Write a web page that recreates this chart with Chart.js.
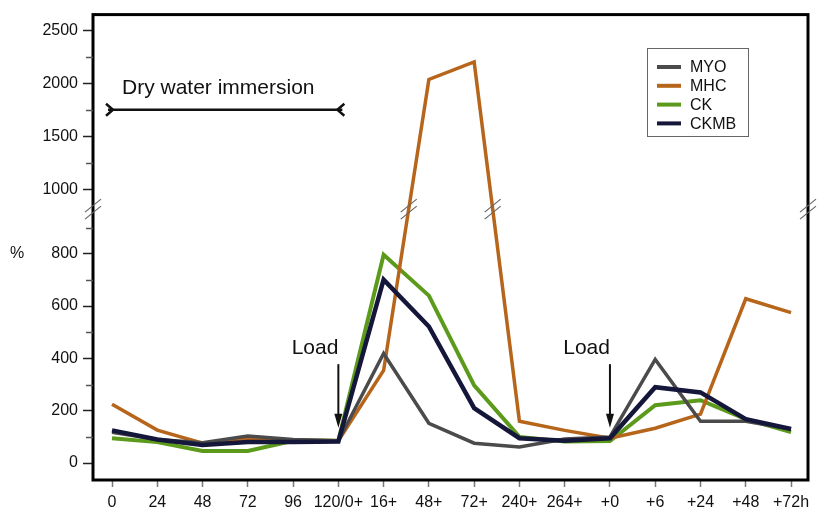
<!DOCTYPE html>
<html>
<head>
<meta charset="utf-8">
<script src="https://cdn.jsdelivr.net/npm/chart.js@4.4.1/dist/chart.umd.min.js"></script>
<style>
  html, body { margin: 0; padding: 0; background: #fff; }
  canvas { display: block; }
</style>
</head>
<body>
<canvas id="chart" width="820" height="511"></canvas>
<script>
/* ── Data ───────────────────────────────────── */
const timeLabels = ['0', '24', '48', '72', '96', '120/0+', '16+', '48+', '72+', '240+', '264+', '+0', '+6', '+24', '+48', '+72h'];
const myo  = [118, 90, 78, 103, 90, 85, 419, 152, 76, 61, 92, 100, 396, 160, 160, 130];
const mhc  = [225, 126, 76, 95, 88, 85, 354, 2040, 2205, 160, 125, 95, 133, 187, 628, 575];
const ck   = [95, 80, 46, 46, 85, 85, 796, 640, 297, 100, 82, 84, 221, 240, 168, 118];
const ckmb = [125, 90, 69, 80, 80, 82, 701, 522, 210, 95, 85, 95, 290, 270, 168, 130];
const yTicks = [0, 200, 400, 600, 800, 1000, 1500, 2000, 2500];
const yMinorTicks = [100, 300, 500, 700, 900, 1250, 1750, 2250];

const FONT = "'Liberation Sans', Arial, Helvetica, sans-serif";
Chart.defaults.font.family = FONT;
Chart.defaults.color = '#111';

/* ── Broken y axis: 0..~930 linear, then compressed upper part ── */
const LOW_MAX = 930, HIGH_MIN = 1000, HIGH_START = 1044, HIGH_RATIO = 0.406;
const DISPLAY_MIN = -64.8, DISPLAY_MAX = 1714.3;
const BREAK_VALUE = 955;

function toDisplay(v) {
  if (v <= LOW_MAX) return v;
  if (v >= HIGH_MIN) return HIGH_START + (v - HIGH_MIN) * HIGH_RATIO;
  return LOW_MAX + (v - LOW_MAX) / (HIGH_MIN - LOW_MAX) * (HIGH_START - LOW_MAX);
}
function fromDisplay(d) {
  if (d <= LOW_MAX) return d;
  if (d >= HIGH_START) return HIGH_MIN + (d - HIGH_START) / HIGH_RATIO;
  return LOW_MAX + (d - LOW_MAX) / (HIGH_START - LOW_MAX) * (HIGH_MIN - LOW_MAX);
}

class BrokenScale extends Chart.LinearScale {
  static id = 'broken';
  static defaults = Chart.LinearScale.defaults;
  buildTicks() {
    return [...yTicks, ...yMinorTicks].sort((a, b) => a - b).map(v => ({ value: v }));
  }
  getPixelForValue(v) {
    if (v === null || v === undefined) return NaN;
    return this.getPixelForDecimal((toDisplay(v) - DISPLAY_MIN) / (DISPLAY_MAX - DISPLAY_MIN));
  }
  getValueForPixel(p) {
    return fromDisplay(DISPLAY_MIN + this.getDecimalForPixel(p) * (DISPLAY_MAX - DISPLAY_MIN));
  }
}
Chart.register(BrokenScale);

const toPoints = arr => arr.map((v, i) => ({ x: i, y: v }));

/* ── Extra drawing: frame, minor ticks, breaks, notes, legend ── */
const decor = {
  id: 'decor',
  afterDraw(chart) {
    const { ctx, chartArea: a, scales: { x, y } } = chart;
    ctx.save();

    // frame
    ctx.strokeStyle = '#000';
    ctx.lineWidth = 3;
    ctx.strokeRect(a.left, a.top, a.right - a.left, a.bottom - a.top);

    // minor y ticks
    ctx.strokeStyle = '#555';
    ctx.lineWidth = 1.5;
    yMinorTicks.forEach(v => {
      const py = Math.round(y.getPixelForValue(v)) + 0.5;
      ctx.beginPath();
      ctx.moveTo(a.left - 7, py);
      ctx.lineTo(a.left, py);
      ctx.stroke();
    });

    // break marks
    const by = y.getPixelForValue(BREAK_VALUE);
    const marks = [a.left, a.right];
    const pts = chart.getDatasetMeta(1).data;
    for (let i = 1; i < pts.length; i++) {
      const p0 = pts[i - 1], p1 = pts[i];
      if ((p0.y - by) * (p1.y - by) < 0) {
        marks.push(p0.x + (by - p0.y) / (p1.y - p0.y) * (p1.x - p0.x));
      }
    }
    ctx.strokeStyle = '#666';
    ctx.lineWidth = 1.2;
    marks.forEach(mx => {
      [-3.5, 3.5].forEach(off => {
        ctx.beginPath();
        ctx.moveTo(mx - 8, by + off + 6.5);
        ctx.lineTo(mx + 8, by + off - 6.5);
        ctx.stroke();
      });
    });

    // "%" label
    ctx.fillStyle = '#111';
    ctx.font = '16px ' + FONT;
    ctx.textAlign = 'center';
    ctx.textBaseline = 'middle';
    ctx.fillText('%', 17, y.getPixelForValue(800));

    // dry water immersion bracket
    const x0 = x.getPixelForValue(0), x5 = x.getPixelForValue(5);
    const bry = y.getPixelForValue(1755);
    ctx.strokeStyle = '#111';
    ctx.lineWidth = 2.5;
    ctx.beginPath();
    ctx.moveTo(x0 - 4, bry);
    ctx.lineTo(x5 + 4, bry);
    ctx.stroke();
    ctx.beginPath();
    ctx.moveTo(x0 - 6, bry - 6);
    ctx.lineTo(x0 + 1, bry);
    ctx.lineTo(x0 - 6, bry + 6);
    ctx.moveTo(x5 + 6, bry - 6);
    ctx.lineTo(x5 - 1, bry);
    ctx.lineTo(x5 + 6, bry + 6);
    ctx.stroke();
    ctx.font = '21px ' + FONT;
    ctx.textAlign = 'left';
    ctx.textBaseline = 'alphabetic';
    ctx.fillText('Dry water immersion', x0 + 10, y.getPixelForValue(1900));

    // load arrows
    [5, 11].forEach(i => {
      const ax = x.getPixelForValue(i);
      const tip = y.getPixelForValue(135);
      ctx.strokeStyle = '#111';
      ctx.lineWidth = 2;
      ctx.beginPath();
      ctx.moveTo(ax, y.getPixelForValue(378));
      ctx.lineTo(ax, tip - 10);
      ctx.stroke();
      ctx.beginPath();
      ctx.moveTo(ax, tip);
      ctx.lineTo(ax - 4, tip - 14);
      ctx.lineTo(ax + 4, tip - 14);
      ctx.closePath();
      ctx.fill();
      ctx.font = '21px ' + FONT;
      ctx.textAlign = 'right';
      ctx.fillText('Load', ax, y.getPixelForValue(415));
    });

    // legend
    ctx.strokeStyle = '#666';
    ctx.lineWidth = 1;
    ctx.strokeRect(647.5, 48.5, 101, 88);
    ctx.font = '16px ' + FONT;
    ctx.textAlign = 'left';
    ctx.textBaseline = 'middle';
    chart.data.datasets.forEach((ds, i) => {
      const ly = 67 + i * 18.8;
      ctx.strokeStyle = ds.borderColor;
      ctx.lineWidth = 4;
      ctx.beginPath();
      ctx.moveTo(657, ly);
      ctx.lineTo(681, ly);
      ctx.stroke();
      ctx.fillStyle = '#111';
      ctx.fillText(ds.label, 690, ly + 1);
    });

    ctx.restore();
  }
};

/* ── Chart ──────────────────────────────────── */
const lineStyle = { borderWidth: 4, pointRadius: 0, tension: 0, fill: false, borderJoinStyle: 'miter' };

new Chart(document.getElementById('chart').getContext('2d'), {
  type: 'line',
  data: {
    datasets: [
      { label: 'MYO',  data: toPoints(myo),  borderColor: '#4b4b4b', order: 1, ...lineStyle, borderWidth: 3.5 },
      { label: 'MHC',  data: toPoints(mhc),  borderColor: '#b6651a', order: 2, ...lineStyle, borderWidth: 3.5 },
      { label: 'CK',   data: toPoints(ck),   borderColor: '#5c9a1c', order: 3, ...lineStyle },
      { label: 'CKMB', data: toPoints(ckmb), borderColor: '#15173a', order: 0, ...lineStyle, borderWidth: 4.5 }
    ]
  },
  options: {
    responsive: false,
    animation: false,
    layout: { padding: { top: 13, right: 12, left: 0, bottom: 0 } },
    plugins: { legend: { display: false }, tooltip: { enabled: false } },
    scales: {
      x: {
        type: 'linear',
        min: -0.42,
        max: 15.375,
        afterBuildTicks: s => { s.ticks = timeLabels.map((_, i) => ({ value: i })); },
        afterFit: s => { s.height = 31; },
        border: { display: false },
        grid: { drawOnChartArea: false, tickLength: 7, tickColor: '#777', tickWidth: 1.5 },
        ticks: { autoSkip: false, maxRotation: 0, minRotation: 0, padding: 6, font: { size: 16 }, callback: v => timeLabels[v] }
      },
      y: {
        type: 'broken',
        position: 'left',
        afterFit: s => { s.width = 93; },
        border: { display: false },
        grid: {
          drawOnChartArea: false, tickLength: 10, tickWidth: 1.5,
          tickColor: c => yTicks.includes(c.tick && c.tick.value) ? '#222' : 'rgba(0,0,0,0)'
        },
        ticks: { autoSkip: false, padding: 5, font: { size: 16 }, callback: v => yTicks.includes(v) ? String(v) : '' }
      }
    }
  },
  plugins: [decor]
});
</script>
</body>
</html>
